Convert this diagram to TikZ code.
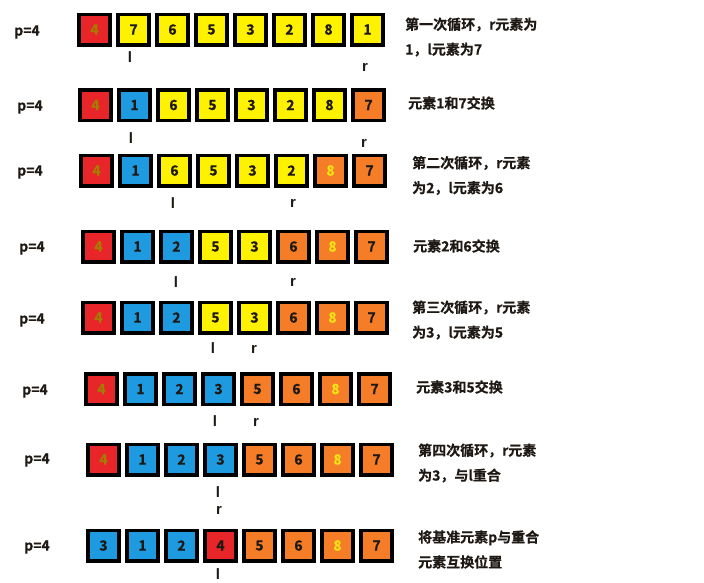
\documentclass[tikz,border=0pt]{standalone}
\usepackage{fontspec}
\setmainfont{Noto Sans CJK SC Bold}[AutoFakeBold=0.6]
\newfontfamily\ptrfont{Liberation Sans}
\definecolor{cR}{RGB}{232,38,42}
\definecolor{cY}{RGB}{255,242,0}
\definecolor{cB}{RGB}{30,155,224}
\definecolor{cO}{RGB}{245,125,40}
\definecolor{cT}{RGB}{30,25,20}
\definecolor{cG}{RGB}{165,125,0}
\definecolor{cE}{RGB}{240,225,20}
\tikzset{
  cell/.style={draw=black, line width=3.5pt, minimum width=31pt, minimum height=30.5pt,
    inner sep=0pt, font=\bfseries\fontsize{14}{14}\selectfont, text=cT},
  plabel/.style={font=\bfseries\fontsize{14}{14}\selectfont, text=cT},
  ptr/.style={font=\ptrfont\bfseries\fontsize{15}{15}\selectfont, text=cT},
  note/.style={anchor=west, align=left, inner sep=0pt, font=\bfseries\fontsize{14}{25}\selectfont, text=cT}
}
\begin{document}
\begin{tikzpicture}[x=1pt,y=-1pt]
\useasboundingbox (0,0) rectangle (704,582);
\fill[white] (0,0) rectangle (704,582);
% rows: name / left x / centre y / items
\foreach \rw/\xs/\yc/\items in {
  1/77/29.5/{cR/cG/4,cY/cT/7,cY/cT/6,cY/cT/5,cY/cT/3,cY/cT/2,cY/cT/8,cY/cT/1},
  2/78/105/{cR/cG/4,cB/cT/1,cY/cT/6,cY/cT/5,cY/cT/3,cY/cT/2,cY/cT/8,cO/cT/7},
  3/79/170.5/{cR/cG/4,cB/cT/1,cY/cT/6,cY/cT/5,cY/cT/3,cY/cT/2,cO/cE/8,cO/cT/7},
  4/81/246.5/{cR/cG/4,cB/cT/1,cB/cT/2,cY/cT/5,cY/cT/3,cO/cT/6,cO/cE/8,cO/cT/7},
  5/81/317.5/{cR/cG/4,cB/cT/1,cB/cT/2,cY/cT/5,cY/cT/3,cO/cT/6,cO/cE/8,cO/cT/7},
  6/84/389/{cR/cG/4,cB/cT/1,cB/cT/2,cB/cT/3,cO/cT/5,cO/cT/6,cO/cE/8,cO/cT/7},
  7/86/459.5/{cR/cG/4,cB/cT/1,cB/cT/2,cB/cT/3,cO/cT/5,cO/cT/6,cO/cE/8,cO/cT/7},
  8/86/545.5/{cB/cT/3,cB/cT/1,cB/cT/2,cR/cT/4,cO/cT/5,cO/cT/6,cO/cE/8,cO/cT/7}}{
  \foreach \fc/\tc/\v [count=\i from 0] in \items {
    \node[cell, fill=\fc, text=\tc] (b\rw c\i) at (\xs+17.5+39*\i, \yc) {\v};
  }
}
% p labels
\node[plabel] (p1) at (27,32) {p=4};
\node[plabel] (p2) at (30,107) {p=4};
\node[plabel] (p3) at (30,172) {p=4};
\node[plabel] (p4) at (32,248) {p=4};
\node[plabel] (p5) at (32,320) {p=4};
\node[plabel] (p6) at (35,391) {p=4};
\node[plabel] (p7) at (37,460) {p=4};
\node[plabel] (p8) at (37,547) {p=4};
% pointers
\node[ptr] (l1) at (130,57) {l};  \node[ptr] (r1) at (365,67) {r};
\node[ptr] (l2) at (131,138) {l}; \node[ptr] (r2) at (364,143) {r};
\node[ptr] (l3) at (173,203) {l}; \node[ptr] (r3) at (293,203) {r};
\node[ptr] (l4) at (176,282) {l}; \node[ptr] (r4) at (293,282) {r};
\node[ptr] (l5) at (213,348) {l}; \node[ptr] (r5) at (254,349) {r};
\node[ptr] (l6) at (215,421) {l}; \node[ptr] (r6) at (256,422) {r};
\node[ptr] (l7) at (218,492) {l}; \node[ptr] (r7) at (219,510) {r};
\node[ptr] (l8) at (218,574) {l};
% notes
\node[note] (t1) at (405,37) {第一次循环，r元素为\\1，l元素为7};
\node[note] (t2) at (408,103) {元素1和7交换};
\node[note] (t3) at (412,175.5) {第二次循环，r元素\\为2，l元素为6};
\node[note] (t4) at (413,246) {元素2和6交换};
\node[note] (t5) at (412,320) {第三次循环，r元素\\为3，l元素为5};
\node[note] (t6) at (416,387) {元素3和5交换};
\node[note] (t7) at (418,463) {第四次循环，r元素\\为3，与l重合};
\node[note] (t8) at (418,549.5) {将基准元素p与重合\\元素互换位置};
\end{tikzpicture}
\end{document}
